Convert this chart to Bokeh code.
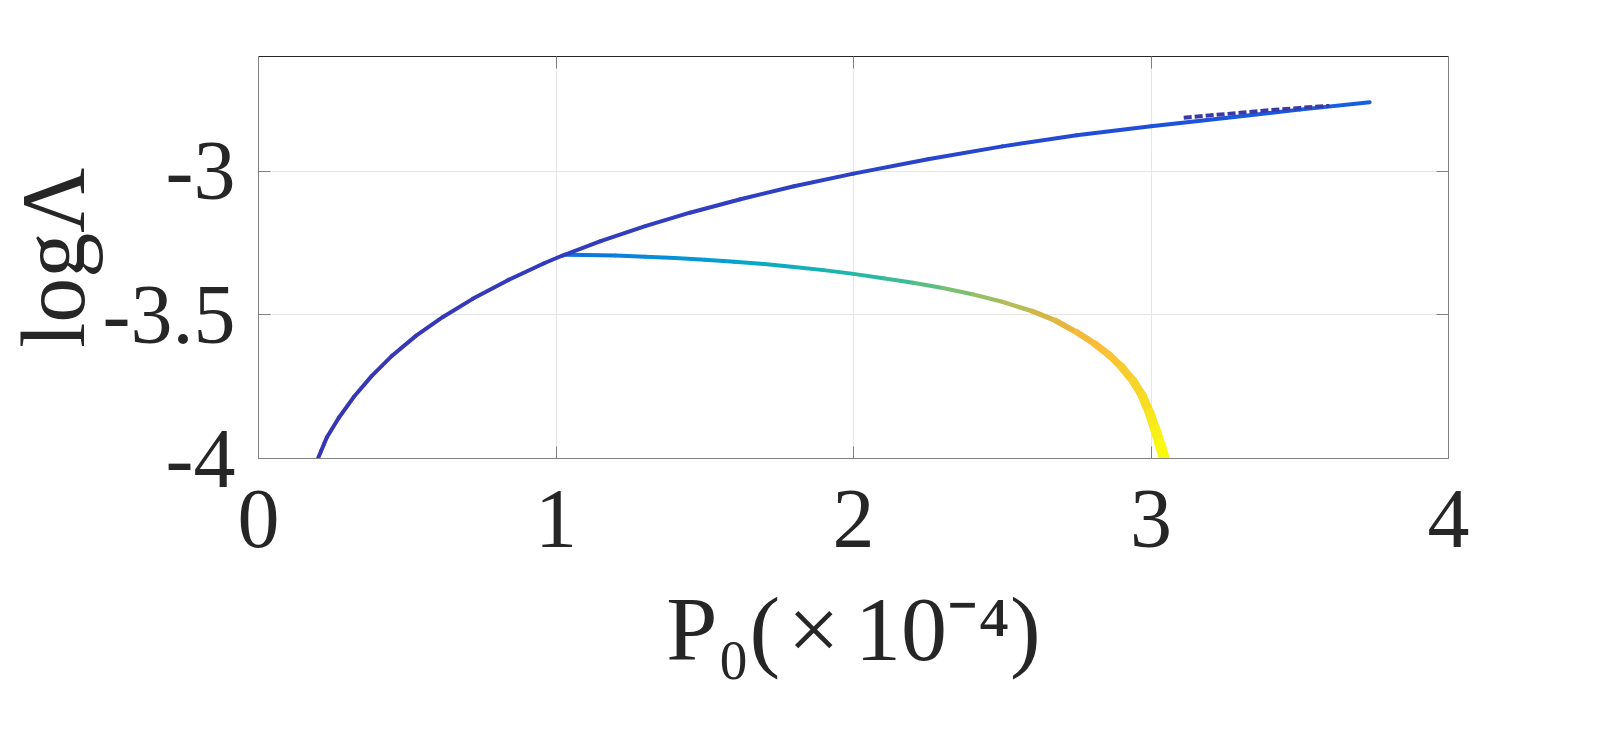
import numpy as np
from bokeh.plotting import figure
from bokeh.models import LinearAxis, FixedTicker
from bokeh.embed import file_html
from bokeh.resources import INLINE

# ---------------- data ----------------
upper_x = [0.20, 0.21, 0.22, 0.23, 0.27, 0.32, 0.38, 0.45, 0.53, 0.62, 0.72, 0.84, 0.96, 1.02,
           1.15, 1.30, 1.45, 1.62, 1.80, 2.00, 2.25, 2.50, 2.75, 3.00, 3.25, 3.50, 3.735]
upper_y = [-4.000, -3.975, -3.950, -3.926, -3.858, -3.786, -3.713, -3.641, -3.572, -3.507,
           -3.444, -3.378, -3.320, -3.294, -3.243, -3.191, -3.144, -3.097, -3.052, -3.008,
           -2.958, -2.913, -2.874, -2.843, -2.814, -2.785, -2.759]
upper_c = [0.060, 0.060, 0.060, 0.060, 0.060, 0.060, 0.061, 0.062, 0.063, 0.064, 0.066, 0.068,
           0.070, 0.071, 0.073, 0.075, 0.077, 0.079, 0.082, 0.085, 0.092, 0.100, 0.110, 0.120,
           0.132, 0.145, 0.160]

lower_x = [1.028, 1.10, 1.20, 1.30, 1.40, 1.50, 1.60, 1.70, 1.80, 1.90, 2.00, 2.10, 2.20, 2.30,
           2.40, 2.50, 2.60, 2.68, 2.75, 2.81, 2.86, 2.90, 2.94, 2.97, 2.995, 3.015, 3.03, 3.045]
lower_y = [-3.290, -3.291, -3.293, -3.297, -3.302, -3.308, -3.315, -3.323, -3.333, -3.344,
           -3.357, -3.372, -3.388, -3.406, -3.428, -3.454, -3.487, -3.520, -3.560, -3.600,
           -3.640, -3.680, -3.730, -3.780, -3.840, -3.900, -3.950, -4.000]
lower_c = [0.18, 0.20, 0.235, 0.265, 0.30, 0.325, 0.355, 0.385, 0.41, 0.435, 0.46, 0.50, 0.54,
           0.58, 0.63, 0.67, 0.72, 0.76, 0.80, 0.83, 0.855, 0.875, 0.90, 0.92, 0.945, 0.965,
           0.985, 1.00]

overlap_x = [3.11, 3.20, 3.30, 3.40, 3.50, 3.60]
overlap_y = [-2.813, -2.805, -2.796, -2.787, -2.779, -2.772]

x_ticks = [0, 1, 2, 3, 4]
x_tick_labels = ["0", "1", "2", "3", "4"]
y_ticks = [-4, -3.5, -3]
y_tick_labels = ["-4", "-3.5", "-3"]

y_label = "logΛ"
x_label = "P₀(\u200a×\u200a\u200a10⁻⁴)"

# ---------------- colour ramp (parula-like) ----------------
ramp_t = [0.00, 0.06, 0.12, 0.18, 0.28, 0.36, 0.45, 0.52, 0.60, 0.68, 0.76, 0.84, 0.92, 1.00]
ramp_rgb = [(53, 42, 135), (55, 55, 180), (30, 80, 220), (15, 110, 225), (10, 140, 215),
            (0, 165, 205), (30, 180, 175), (60, 188, 150), (120, 190, 115), (175, 190, 90),
            (225, 180, 65), (252, 188, 55), (245, 215, 40), (249, 251, 14)]


def ramp(t):
    r = np.interp(t, ramp_t, [c[0] for c in ramp_rgb])
    g = np.interp(t, ramp_t, [c[1] for c in ramp_rgb])
    b = np.interp(t, ramp_t, [c[2] for c in ramp_rgb])
    return "#%02x%02x%02x" % (int(round(r)), int(round(g)), int(round(b)))


# ---------------- figure ----------------
W, H = 1600, 743
FL, FR, FT, FB = 258, 1448, 56, 458   # frame edges in page pixels
p = figure(width=W, height=H, x_range=(0, 4), y_range=(-4, -2.6),
           output_backend="svg", toolbar_location=None,
           min_border_left=FL, min_border_right=W - FR, min_border_top=FT,
           min_border_bottom=H - FB)
p.outline_line_color = None
p.background_fill_color = "white"
p.border_fill_color = "white"

FONT = "Liberation Serif"
TICK_COL = "#808080"
TEXT_COL = "#262626"

for ax in p.xaxis:
    ax.ticker = FixedTicker(ticks=x_ticks)
    ax.major_label_overrides = dict(zip(x_ticks, x_tick_labels))
    ax.major_label_text_font = FONT
    ax.major_label_text_font_size = "84px"
    ax.major_label_text_color = TEXT_COL
    ax.major_label_standoff = 32
    ax.major_tick_in = 12
    ax.major_tick_out = 0
    ax.minor_tick_line_color = None
    ax.major_tick_line_color = TICK_COL
    ax.axis_line_color = TICK_COL
    ax.axis_label = x_label
    ax.axis_label_text_font = FONT
    ax.axis_label_text_font_size = "92px"
    ax.axis_label_text_font_style = "normal"
    ax.axis_label_text_color = TEXT_COL
    ax.axis_label_standoff = 28

for ax in p.yaxis:
    ax.ticker = FixedTicker(ticks=y_ticks)
    ax.major_label_overrides = dict(zip(y_ticks, y_tick_labels))
    ax.major_label_text_font = FONT
    ax.major_label_text_font_size = "84px"
    ax.major_label_text_color = TEXT_COL
    ax.major_label_standoff = 23
    ax.major_tick_in = 12
    ax.major_tick_out = 0
    ax.minor_tick_line_color = None
    ax.major_tick_line_color = TICK_COL
    ax.axis_line_color = TICK_COL
    ax.axis_label = y_label
    ax.axis_label_text_font = FONT
    ax.axis_label_text_font_size = "90px"
    ax.axis_label_text_font_style = "normal"
    ax.axis_label_text_color = TEXT_COL
    ax.axis_label_standoff = -3

# box axes (top / right) with ticks only
top = LinearAxis(ticker=FixedTicker(ticks=x_ticks),
                 major_label_overrides={t: "" for t in x_ticks},
                 major_tick_in=12, major_tick_out=0, minor_tick_line_color=None,
                 major_tick_line_color=TICK_COL, axis_line_color="#262626",
                 major_label_text_font_size="1px")
right = LinearAxis(ticker=FixedTicker(ticks=y_ticks),
                   major_label_overrides={t: "" for t in y_ticks},
                   major_tick_in=12, major_tick_out=0, minor_tick_line_color=None,
                   major_tick_line_color=TICK_COL, axis_line_color=TICK_COL,
                   major_label_text_font_size="1px")
p.add_layout(top, "above")
p.add_layout(right, "right")

p.xgrid.ticker = FixedTicker(ticks=x_ticks)
p.ygrid.ticker = FixedTicker(ticks=y_ticks)
p.xgrid.grid_line_color = "#e6e6e6"
p.ygrid.grid_line_color = "#e6e6e6"
p.xgrid.grid_line_width = 1
p.ygrid.grid_line_width = 1

# ---------------- data marks ----------------
# lower (coloured) branch
lx0, ly0, lx1, ly1, lcol, lw = [], [], [], [], [], []
for i in range(len(lower_x) - 1):
    c = 0.5 * (lower_c[i] + lower_c[i + 1])
    lx0.append(lower_x[i]); ly0.append(lower_y[i])
    lx1.append(lower_x[i + 1]); ly1.append(lower_y[i + 1])
    lcol.append(ramp(c))
    lw.append(4.0 + 7.0 * max(0.0, (c - 0.65) / 0.35) ** 1.4)
p.segment(x0=lx0, y0=ly0, x1=lx1, y1=ly1, line_color=lcol, line_width=lw, line_cap="round")

# upper branch
ux0, uy0, ux1, uy1, ucol = [], [], [], [], []
for i in range(len(upper_x) - 1):
    c = 0.5 * (upper_c[i] + upper_c[i + 1])
    ux0.append(upper_x[i]); uy0.append(upper_y[i])
    ux1.append(upper_x[i + 1]); uy1.append(upper_y[i + 1])
    ucol.append(ramp(c))
p.segment(x0=ux0, y0=uy0, x1=ux1, y1=uy1, line_color=ucol, line_width=4, line_cap="round")

# overlapping dark dashed piece near the end of the upper branch
p.line(overlap_x, overlap_y, line_color="#3a3aa6", line_width=4, line_dash="8 3")

open("out.html", "w").write(file_html(p, INLINE))
